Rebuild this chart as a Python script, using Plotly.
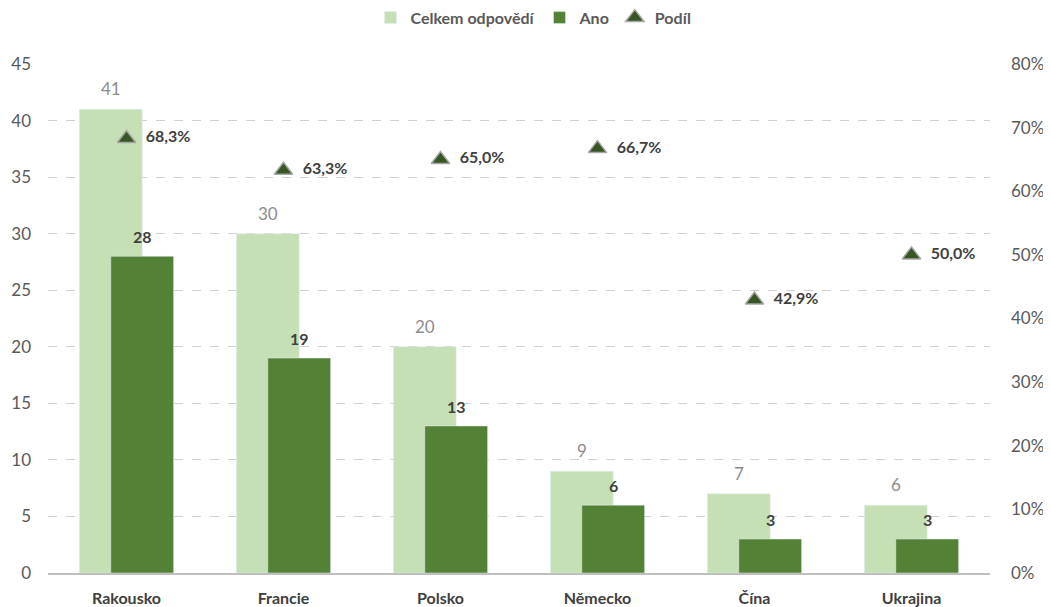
import plotly.graph_objects as go

zeme = ["Rakousko", "Francie", "Polsko", "Německo", "Čína", "Ukrajina"]
celkem = [41, 30, 20, 9, 7, 6]
ano = [28, 19, 13, 6, 3, 3]
podil = [68.3, 63.3, 65.0, 66.7, 42.9, 50.0]

svetla = "#C5E0B4"
tmava = "#538135"
font = "Lato, 'Open Sans', sans-serif"

fig = go.Figure()

fig.add_trace(go.Bar(
    x=zeme, y=celkem, name="<b>Celkem odpovědí</b>",
    marker_color=svetla, offset=-0.3, width=0.4,
))

fig.add_trace(go.Bar(
    x=zeme, y=ano, name="<b>Ano</b>",
    marker_color=tmava, offset=-0.1, width=0.4,
))

fig.add_trace(go.Scatter(
    x=zeme, y=podil, name="<b>Podíl</b>", yaxis="y2", mode="markers+text",
    marker=dict(symbol="triangle-up", size=16, color="#375623",
                line=dict(color="#A6A6A6", width=1.5)),
    text=["  <b>%s%%</b>" % ("%.1f" % v).replace(".", ",") for v in podil],
    textposition="middle right",
    textfont=dict(color="#404040", size=16, family=font),
    cliponaxis=False,
))

# popisky sloupců (větší odstup než textposition="outside")
for z, c, a in zip(zeme, celkem, ano):
    fig.add_annotation(x=z, y=c, text=str(c), showarrow=False,
                       xshift=-15.7, yshift=8, yanchor="bottom",
                       font=dict(color="#8C8C8C", size=17, family=font))
    fig.add_annotation(x=z, y=a, text="<b>%d</b>" % a, showarrow=False,
                       xshift=15.7, yshift=8, yanchor="bottom",
                       font=dict(color="#404040", size=16, family=font))

# stránka má okraj 8 px, proto posunuté okraje
fig.update_layout(
    barmode="overlay",
    width=1051, height=607,
    plot_bgcolor="white", paper_bgcolor="white",
    font=dict(family=font, color="#595959", size=15),
    margin=dict(l=40, r=69, t=56, b=42, autoexpand=False),
    showlegend=True,
    legend=dict(orientation="h", xref="container", x=0.5, xanchor="center",
                yref="container", y=0.984, yanchor="middle",
                font=dict(size=16, color="#595959", family=font),
                traceorder="normal", itemclick=False),
    xaxis=dict(
        tickfont=dict(size=16, color="#404040", family=font),
        tickprefix="<b>", ticksuffix="</b>",
        showline=True, linecolor="#BFBFBF", linewidth=1.5,
        ticks="", showgrid=False, automargin=False, ticklabelstandoff=10,
    ),
    yaxis=dict(
        range=[0, 45], dtick=5,
        showgrid=True, gridcolor="#D0D0D0", griddash="dash", gridwidth=1,
        zeroline=False, ticks="", ticklabelstandoff=16, automargin=False,
        tickfont=dict(size=17, color="#595959"),
    ),
    yaxis2=dict(
        range=[0, 80], dtick=10, overlaying="y", side="right",
        ticksuffix="%", showgrid=False, zeroline=False, ticks="",
        ticklabelstandoff=20, automargin=False,
        tickfont=dict(size=17, color="#595959"),
    ),
)

fig.write_html("out.html")
